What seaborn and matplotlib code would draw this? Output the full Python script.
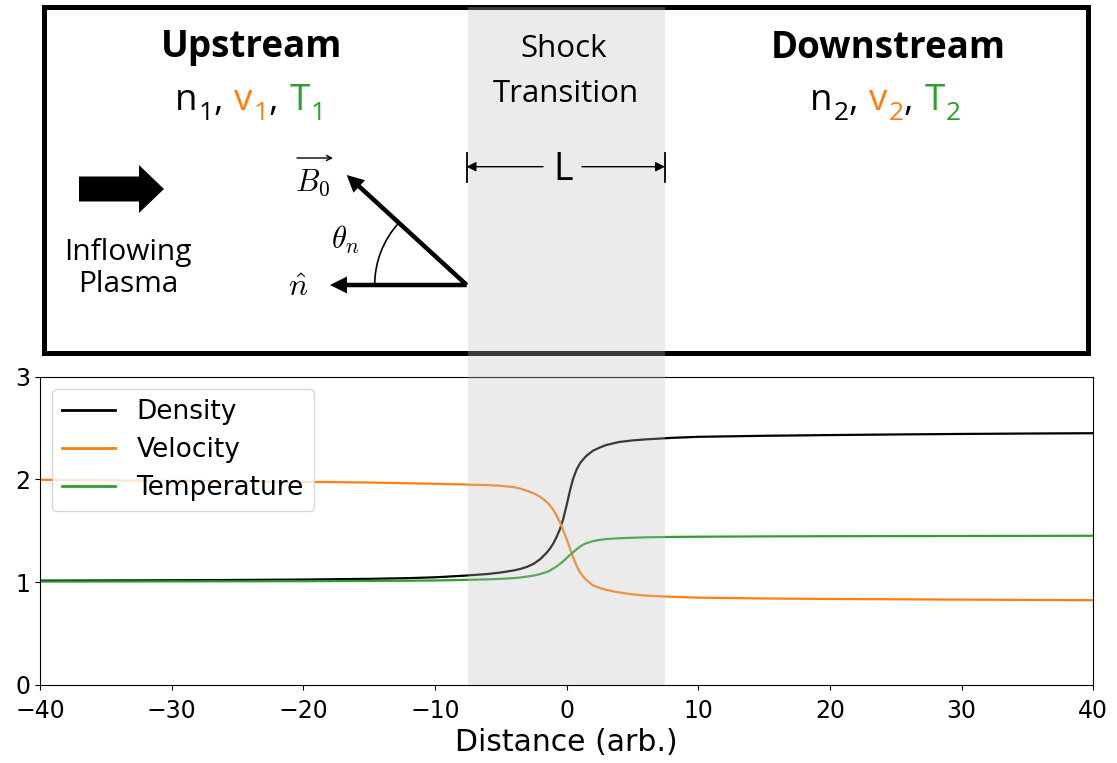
import numpy as np
import pandas as pd
import matplotlib
matplotlib.use("Agg")
import matplotlib.pyplot as plt
import seaborn as sns
from matplotlib.patches import Rectangle, FancyArrow, Arc
from matplotlib.lines import Line2D
from matplotlib.text import Annotation
from matplotlib.transforms import Affine2D, blended_transform_factory

# ---------------- data ----------------
distance = [-40, -35, -30, -25, -20, -15, -12, -10, -8, -6, -5, -4, -3.5, -3, -2.5,
            -2, -1.5, -1.25, -1, -0.75, -0.5, -0.25, 0, 0.25, 0.5, 0.75, 1, 1.25,
            1.5, 2, 2.5, 3, 4, 5, 6, 8, 10, 15, 20, 25, 30, 35, 40]
density = [1.015, 1.017, 1.019, 1.022, 1.026, 1.033, 1.040, 1.048, 1.062, 1.080,
           1.095, 1.115, 1.130, 1.150, 1.180, 1.225, 1.290, 1.330, 1.380, 1.445,
           1.520, 1.620, 1.750, 1.890, 2.010, 2.095, 2.155, 2.195, 2.230, 2.280,
           2.310, 2.335, 2.365, 2.380, 2.390, 2.405, 2.415, 2.425, 2.432, 2.438,
           2.443, 2.447, 2.450]
velocity = [1.997, 1.992, 1.987, 1.982, 1.977, 1.970, 1.963, 1.958, 1.952, 1.945,
            1.938, 1.925, 1.910, 1.890, 1.865, 1.830, 1.780, 1.745, 1.700, 1.645,
            1.580, 1.500, 1.420, 1.330, 1.240, 1.160, 1.100, 1.055, 1.020, 0.970,
            0.945, 0.925, 0.900, 0.882, 0.870, 0.858, 0.850, 0.842, 0.837, 0.834,
            0.831, 0.828, 0.825]
temperature = [1.006, 1.007, 1.008, 1.009, 1.010, 1.013, 1.015, 1.017, 1.022, 1.028,
               1.033, 1.040, 1.047, 1.055, 1.065, 1.080, 1.100, 1.115, 1.135, 1.155,
               1.180, 1.205, 1.235, 1.265, 1.292, 1.320, 1.345, 1.365, 1.380, 1.400,
               1.412, 1.420, 1.428, 1.433, 1.437, 1.441, 1.443, 1.446, 1.448, 1.449,
               1.450, 1.451, 1.452]
series_names = ["Density", "Velocity", "Temperature"]
series_colors = ["black", "#ff7f0e", "#2ca02c"]
x_ticks = [-40, -30, -20, -10, 0, 10, 20, 30, 40]
y_ticks = [0, 1, 2, 3]
shock_left, shock_right = -7.5, 7.5
x_label = "Distance (arb.)"

# ---------------- styling ----------------
plt.rcParams["xtick.labelsize"] = 17
plt.rcParams["ytick.labelsize"] = 17

W, H = 1117, 763
fig = plt.figure(figsize=(W / 100, H / 100), dpi=100)
ax = fig.add_axes([40 / W, 1 - 685 / H, (1093.3 - 40) / W, (685 - 376.7) / H])
# pixel coordinates measured from the top-left corner of the figure
PX = Affine2D().scale(1 / W, -1 / H).translate(0, 1) + fig.transFigure

df = pd.DataFrame({
    "Distance": distance * 3,
    "value": density + velocity + temperature,
    "quantity": [n for n in series_names for _ in distance],
})
sns.lineplot(data=df, x="Distance", y="value", hue="quantity",
             hue_order=series_names, palette=series_colors, ax=ax,
             linewidth=1.6, errorbar=None)

ax.set_xlim(-40, 40)
ax.set_ylim(0, 3)
ax.set_xticks(x_ticks)
ax.set_yticks(y_ticks)
ax.tick_params(axis="x", pad=6.5)
ax.set_xlabel(x_label, fontsize=21.5, labelpad=4)
ax.set_ylabel("")

old = ax.get_legend()
handles = old.legend_handles
labels = [t.get_text() for t in old.texts]
old.remove()
leg = ax.legend(handles, labels, loc="upper left", fontsize=19,
                borderaxespad=0.45, labelspacing=0.45)
for h in leg.legend_handles:
    h.set_linewidth(2)

# ---------------- shock-transition shade ----------------
shade = Rectangle((shock_left, 7), shock_right - shock_left, 685 - 7,
                  transform=blended_transform_factory(ax.transData, PX),
                  facecolor=(0.75, 0.75, 0.75), alpha=0.3, edgecolor="none",
                  zorder=5)
fig.add_artist(shade)

# ---------------- schematic box ----------------
box = Rectangle((43.5, 6.7), 1087.5 - 43.5, 353 - 6.7, transform=PX,
                fill=False, edgecolor="black", linewidth=3.6, zorder=3)
fig.add_artist(box)

TXT = dict(transform=PX, family="Open Sans", zorder=10)
fig.text(251.7, 57.5, "Upstream", fontsize=26.5, fontweight="bold",
         ha="center", va="baseline", **TXT)
fig.text(888, 57.5, "Downstream", fontsize=26.5, fontweight="bold",
         ha="center", va="baseline", **TXT)
fig.text(564, 56.7, "Shock", fontsize=22.5, ha="center", va="baseline", **TXT)
fig.text(565.5, 101.7, "Transition", fontsize=22.5, ha="center", va="baseline", **TXT)
fig.text(563.3, 180, "L", fontsize=27, ha="center", va="baseline", **TXT)
fig.text(127.5, 260, "Inflowing", fontsize=21.5, ha="center", va="baseline", **TXT)
fig.text(128, 291.7, "Plasma", fontsize=21.5, ha="center", va="baseline", **TXT)


def colored_line(x0, y0, pieces):
    """pieces: (text, colour, size, baseline shift px, gap before in points)"""
    prev = None
    for s, c, size, dy, gap in pieces:
        if prev is None:
            prev = fig.text(x0, y0 + dy, s, color=c, fontsize=size, ha="left",
                            va="baseline", **TXT)
        else:
            ann = Annotation(s, xy=(1, y0 + dy), xycoords=(prev, PX),
                             xytext=(gap, 0), textcoords="offset points",
                             color=c, fontsize=size, family="Open Sans",
                             ha="left", va="baseline", zorder=10)
            fig.add_artist(ann)
            prev = ann


def params(x0, idx):
    big, small, sub_dy = 26.5, 19, 9.5
    k = "black"
    return colored_line(x0, 110, [
        ("n", series_colors[0], big, 0, 0),
        (idx, series_colors[0], small, sub_dy, 0.8),
        (",", k, big, 0, 0),
        ("v", series_colors[1], big, 0, 8),
        (idx, series_colors[1], small, sub_dy, 0.8),
        (",", k, big, 0, 0),
        ("T", series_colors[2], big, 0, 8),
        (idx, series_colors[2], small, sub_dy, 0.8),
    ])


params(175, "1")
params(810, "2")

# inflowing plasma arrow
fig.add_artist(FancyArrow(79, 189, 85, 0, width=25, head_width=48,
                          head_length=25, length_includes_head=True,
                          transform=PX, color="black", linewidth=0, zorder=4))

# field / normal vectors
vx, vy = 466.7, 285
fig.add_artist(FancyArrow(vx, vy, 330 - vx, 0, width=4.5, head_width=17,
                          head_length=17, length_includes_head=True,
                          transform=PX, color="black", linewidth=0, zorder=4))
fig.add_artist(FancyArrow(vx, vy, 346.7 - vx, 175 - vy, width=4.5, head_width=17,
                          head_length=17, length_includes_head=True,
                          transform=PX, color="black", linewidth=0, zorder=4))
fig.add_artist(Arc((vx, vy), 184, 184, theta1=180, theta2=222.5, transform=PX,
                   color="black", linewidth=1.2, zorder=4))
fig.text(313, 191, r"$B_0$", fontsize=22, math_fontfamily="cm",
         ha="center", va="baseline", transform=PX, zorder=10)
fig.add_artist(Annotation("", xy=(333, 158), xycoords=PX, xytext=(297, 158),
                          textcoords=PX,
                          arrowprops=dict(arrowstyle="->", color="black", lw=1.0,
                                          mutation_scale=9, shrinkA=0, shrinkB=0),
                          zorder=10))
fig.text(345, 240, r"$\theta_n$", fontsize=22, math_fontfamily="cm",
         ha="center", va="center", transform=PX, zorder=10)
fig.text(298, 287, r"$\hat{n}$", fontsize=23, math_fontfamily="cm",
         ha="center", va="center", transform=PX, zorder=10)

# L dimension arrows
for x_from, x_to in [(543, 466.5), (582, 665)]:
    fig.add_artist(Annotation("", xy=(x_to, 166.7), xycoords=PX,
                              xytext=(x_from, 166.7), textcoords=PX,
                              arrowprops=dict(arrowstyle="-|>", color="black",
                                              lw=1.0, mutation_scale=14,
                                              shrinkA=0, shrinkB=0),
                              zorder=10))
for xb in (466.5, 665):
    fig.add_artist(Line2D([xb, xb], [153, 182], transform=PX, color="black",
                          linewidth=1.3, zorder=10))

fig.savefig("out.png", dpi=100)
